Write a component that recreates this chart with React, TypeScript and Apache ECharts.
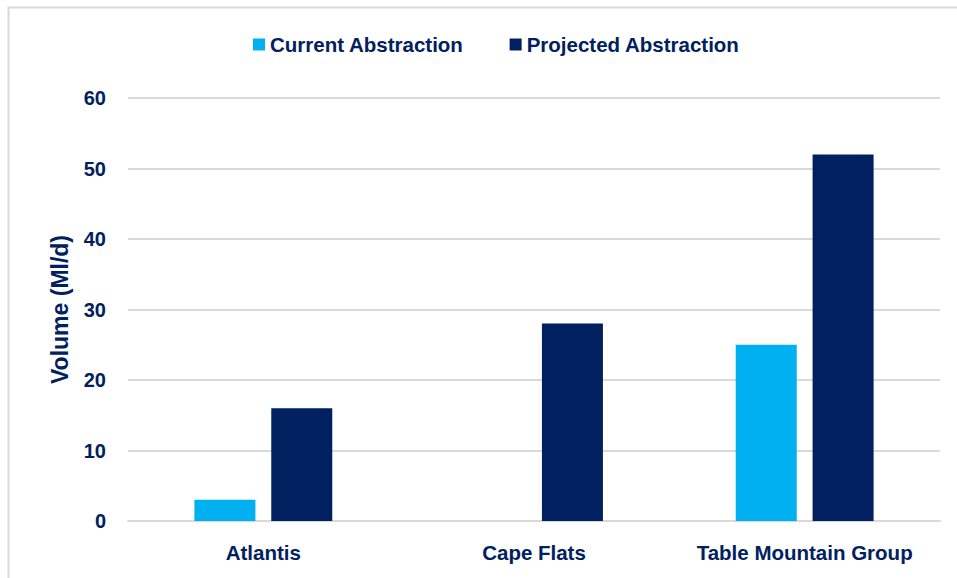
import React, { useEffect, useRef } from "react";
import * as echarts from "echarts";

const categories = ["Atlantis", "Cape Flats", "Table Mountain Group"];
const currentAbstraction = [3, 0, 25];
const projectedAbstraction = [16, 28, 52];
const seriesNames = ["Current Abstraction", "Projected Abstraction"];
const yAxisName = "Volume (Ml/d)";

const NAVY = "#002060";
const CYAN = "#00B0F0";
const SANS = "'Liberation Sans', Arial, sans-serif";

export default function App() {
  const ref = useRef<HTMLDivElement>(null);
  useEffect(() => {
    if (!ref.current) return;
    const chart = echarts.init(ref.current, null, { renderer: "svg" });
    chart.setOption({
      animation: false,
      backgroundColor: "#ffffff",
      graphic: [
        {
          type: "rect",
          shape: { x: 8.5, y: 7.5, width: 960, height: 600 },
          style: { fill: "none", stroke: "#d9d9d9", lineWidth: 2 },
          silent: true,
        },
      ],
      legend: {
        top: 29,
        left: 248,
        itemWidth: 12,
        itemHeight: 12,
        itemGap: 46,
        icon: "rect",
        textStyle: { color: NAVY, fontFamily: SANS, fontWeight: "bold", fontSize: 20.5 },
        data: seriesNames,
      },
      grid: { left: 128, right: 17, top: 98, bottom: 57, containLabel: false },
      xAxis: {
        type: "category",
        data: categories,
        axisLine: { show: true, lineStyle: { color: "#d9d9d9", width: 2 } },
        axisTick: { show: false },
        axisLabel: { color: NAVY, fontFamily: SANS, fontWeight: "bold", fontSize: 20.5, margin: 21, interval: 0 },
      },
      yAxis: {
        type: "value",
        min: 0,
        max: 60,
        interval: 10,
        name: yAxisName,
        nameLocation: "middle",
        nameGap: 57,
        nameTextStyle: { color: NAVY, fontFamily: SANS, fontWeight: "bold", fontSize: 23 },
        axisLine: { show: false },
        axisTick: { show: false },
        splitLine: { lineStyle: { color: "#d9d9d9", width: 2 } },
        axisLabel: { color: NAVY, fontFamily: SANS, fontWeight: "bold", fontSize: 20, margin: 22 },
      },
      series: [
        {
          name: seriesNames[0],
          type: "bar",
          data: currentAbstraction,
          barWidth: 61,
          barGap: "26%",
          itemStyle: { color: CYAN },
        },
        {
          name: seriesNames[1],
          type: "bar",
          data: projectedAbstraction,
          barWidth: 61,
          barGap: "26%",
          itemStyle: { color: NAVY },
        },
      ],
    });
    return () => chart.dispose();
  }, []);
  return (
    <div
      ref={ref}
      style={{ position: "fixed", left: 0, top: 0, width: 957, height: 578 }}
    />
  );
}
